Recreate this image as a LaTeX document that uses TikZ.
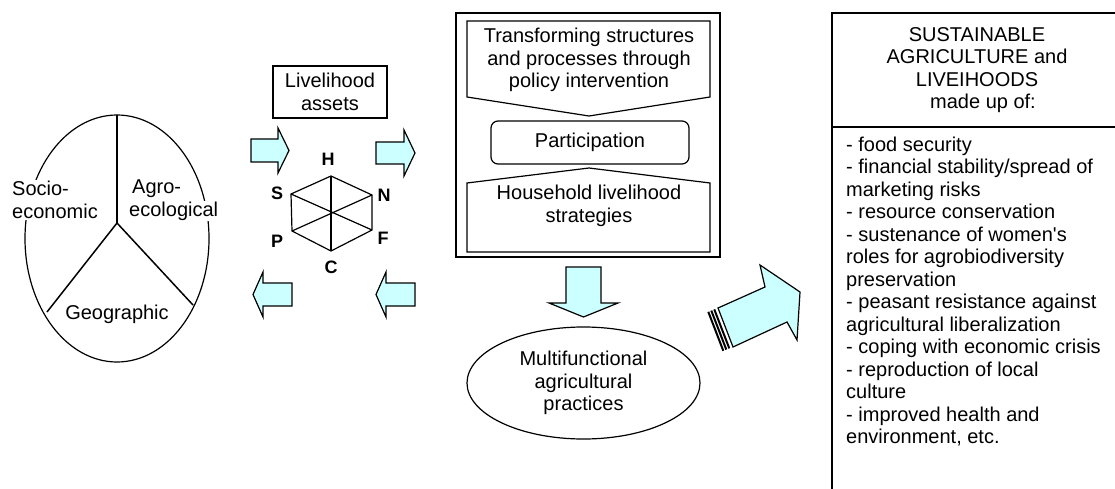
\documentclass[tikz,border=0pt]{standalone}
\usepackage{fontspec}
\setmainfont{Liberation Sans}[Ligatures=TeXOff]
\usetikzlibrary{shapes.geometric}
\definecolor{arrowfill}{RGB}{204,255,255}
\begin{document}
\begin{tikzpicture}[x=1pt,y=-1pt,
  txt/.style={font=\fontsize{20}{22.5}\selectfont, inner sep=0pt},
  lbl/.style={font=\fontsize{18}{20}\selectfont\bfseries, inner sep=0pt},
  line/.style={draw=black, line width=1.2pt},
  thick line/.style={draw=black, line width=1.5pt},
  barrow/.style={draw=black, line width=1.2pt, fill=arrowfill, line join=miter},
  stripe/.style={draw=black, line width=2pt},
]
\useasboundingbox (0,0) rectangle (1115,489);

% ---------- left ellipse with three sectors ----------
\draw[line] (117,238.5) ellipse [x radius=92, y radius=123.5];
\coordinate (pc) at (117,223);
\draw[thick line] (117,115) -- (pc);
\draw[thick line] (pc) -- (47,312);
\draw[thick line] (pc) -- (193,305);
\node[txt, fill=white, anchor=west, align=left, inner sep=1pt] (socio) at (11,200) {Socio-\\economic};
\node[txt, fill=white, anchor=west, inner sep=1pt] (agro) at (131,189) {Agro-};
\node[txt, fill=white, anchor=west, inner sep=1pt] (ecol) at (128,211) {ecological};
\node[txt] (geo) at (117,314) {Geographic};

% ---------- livelihood assets ----------
\node[txt, draw, line width=1.2pt, minimum width=114, minimum height=52, align=center] (assets) at (330,92) {Livelihood\\assets};

% hexagon
\coordinate (hH) at (331,176);
\coordinate (hN) at (372,195);
\coordinate (hF) at (372,230);
\coordinate (hC) at (331,251);
\coordinate (hP) at (292,231);
\coordinate (hS) at (291,194);
\draw[line] (hH) -- (hN) -- (hF) -- (hC) -- (hP) -- (hS) -- cycle;
\draw[line] (hH) -- (hC);
\draw[line] (hS) -- (hF);
\draw[line] (hP) -- (hN);
\node[lbl] (lH) at (328,159) {H};
\node[lbl] (lS) at (277,193) {S};
\node[lbl] (lN) at (384,195) {N};
\node[lbl] (lP) at (277,241) {P};
\node[lbl] (lF) at (383,238) {F};
\node[lbl] (lC) at (331,267) {C};

% small block arrows
\draw[barrow] (251,139) -- (278,139) -- (278,128) -- (289,150.5) -- (278,173) -- (278,162) -- (251,162) -- cycle;
\draw[barrow] (376,142) -- (404,142) -- (404,130) -- (415,153) -- (404,176) -- (404,164) -- (376,164) -- cycle;
\draw[barrow] (292,283) -- (263,283) -- (263,272) -- (253,294.5) -- (263,317) -- (263,306) -- (292,306) -- cycle;
\draw[barrow] (415,283) -- (386,283) -- (386,272) -- (376,294.5) -- (386,317) -- (386,306) -- (415,306) -- cycle;

% ---------- central box ----------
\draw[line] (456,13) rectangle (720,257);
\draw[line] (467,21) -- (710,21) -- (710,97) -- (589,116) -- (467,97) -- cycle;
\node[txt, align=center] (transf) at (589,60) {Transforming structures\\and processes through\\policy intervention};
\node[txt, draw, line width=1.2pt, rounded corners=7pt, minimum width=198, minimum height=43] (partic) at (590,142.5) {Participation};
\draw[line] (467,252) -- (467,183) -- (589,168) -- (710,183) -- (710,252) -- cycle;
\node[txt, align=center] (house) at (589,206) {Household livelihood\\strategies};

% down arrow
\draw[barrow] (566,267) -- (601,267) -- (601,303) -- (618,303) -- (583.5,317) -- (549,303) -- (566,303) -- cycle;

% multifunctional ellipse
\node[txt, draw, line width=1.2pt, ellipse, minimum width=233, minimum height=112, align=center] (multi) at (583.5,383) {Multifunctional\\agricultural\\practices};

% big striped arrow
\draw[barrow] (718,308) -- (765,287) -- (760,265) -- (800,292) -- (797,340) -- (787,322) -- (733,347) -- cycle;
\draw[stripe] (714.3,309.4) -- (729.3,348.4);
\draw[stripe] (711.3,310.6) -- (726.3,349.6);
\draw[stripe] (708.3,311.8) -- (723.3,350.8);

% ---------- right box ----------
\draw[thick line] (1115,13) -- (832,13) -- (832,489);
\draw[thick line] (832,127) -- (1115,127);
\node[txt, align=center] (title) at (977,70) {SUSTAINABLE\\AGRICULTURE and\\LIVEIHOODS\\\hspace*{0.6em}made up of:};
\node[txt, align=left, anchor=west] (list) at (846,291.5) {- food security\\- financial stability/spread of\\marketing risks\\- resource conservation\\- sustenance of women's\\roles for agrobiodiversity\\preservation\\- peasant resistance against\\agricultural liberalization\\- coping with economic crisis\\- reproduction of local\\culture\\- improved health and\\environment, etc.};
\end{tikzpicture}
\end{document}
